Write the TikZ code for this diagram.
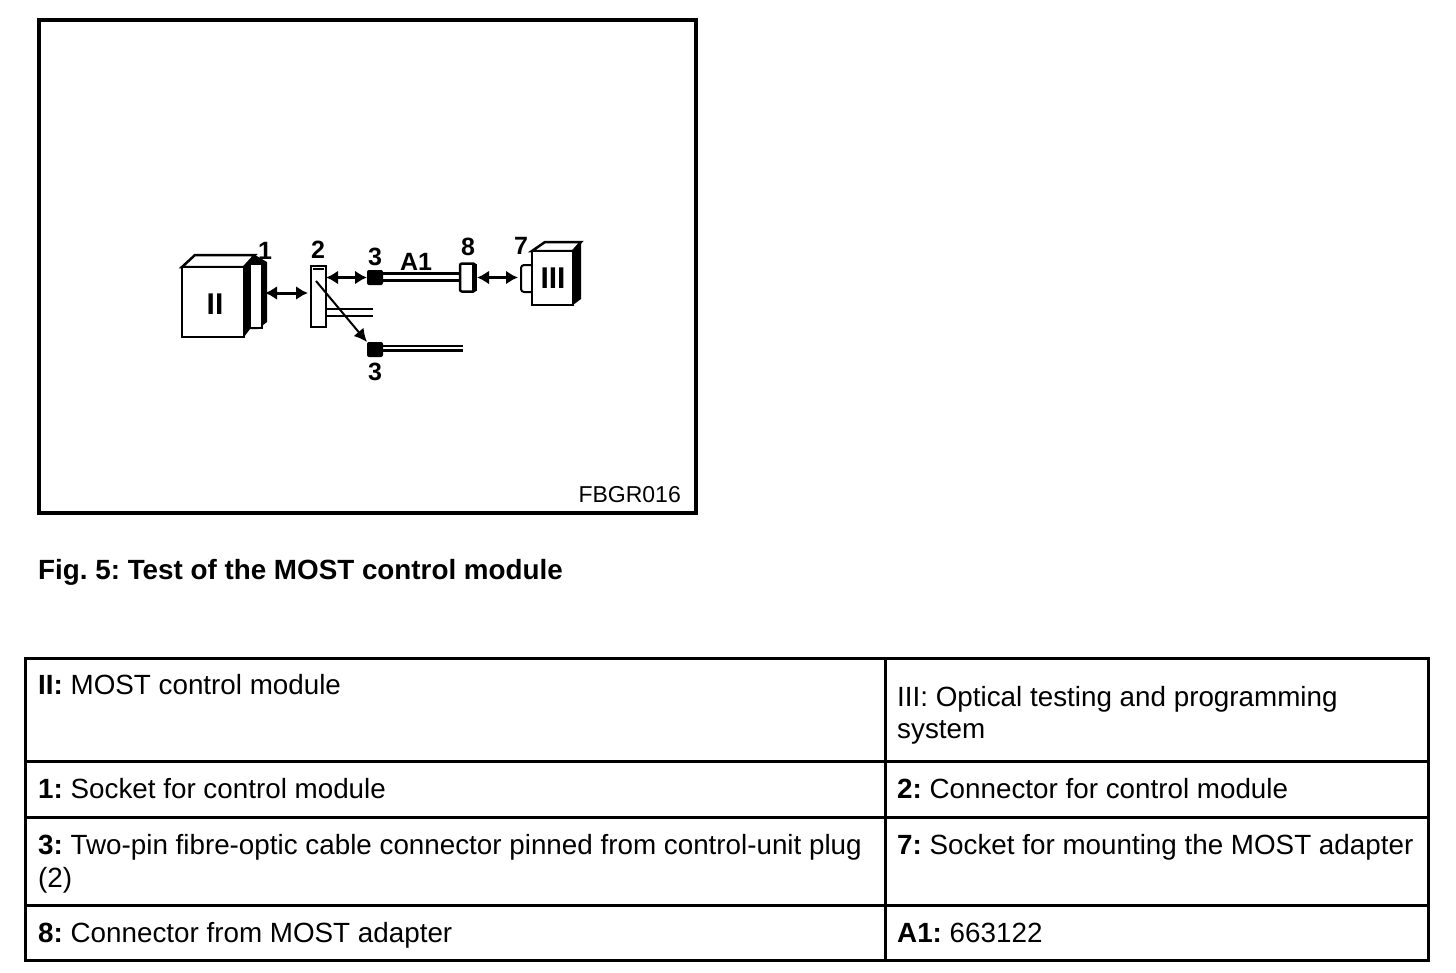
\documentclass[tikz,border=0pt]{standalone}
\usepackage{fontspec}
\setmainfont{Liberation Sans}
\usetikzlibrary{arrows.meta,positioning}

\begin{document}
\frenchspacing
\begin{tikzpicture}[x=1pt,y=-1pt,
  part/.style={rectangle,draw=black,fill=white,line width=2.5pt,inner sep=0pt,outer sep=0pt},
  pin/.style={rectangle,fill=black,inner sep=0pt,outer sep=0pt,minimum width=16pt,minimum height=15pt,rounded corners=2pt},
  num/.style={font=\fontsize{25}{25}\selectfont\bfseries,inner sep=0pt},
  roman/.style={font=\fontsize{30}{30}\selectfont\bfseries,inner sep=0pt},
  txt/.style={font=\fontsize{27.8}{32}\selectfont,anchor=base west,inner sep=0pt},
  link/.style={{Latex[length=12pt,width=14pt]}-{Latex[length=12pt,width=14pt]},line width=3pt},
  cable/.style={line width=2.5pt},
  cell/.style={draw=black,line width=3pt}]
  \useasboundingbox (0,0) rectangle (1456,972);

  % picture frame
  \node (frame) [rectangle,draw=black,line width=4pt,inner sep=0pt,outer sep=0pt,minimum width=657pt,minimum height=493pt,anchor=north west] at (39,20) {};
  \node (code) [font=\fontsize{23}{23}\selectfont,inner sep=0pt,anchor=east] at (681,495) {FBGR016};

  % module II
  \fill[black] (244,267) -- (255,255) -- (267,262) -- (267,322) -- (258,329) -- (250,329) -- (244,337) --cycle;
  \draw[part] (182,267) -- (195,255) -- (255,255) -- (244,267) --cycle;
  \node (socketone) [part,minimum width=12pt,minimum height=64pt,anchor=north west,line width=2pt] at (250,264) {};
  \node (moduletwo) [part,minimum width=62pt,minimum height=70pt,anchor=north west] at (182,267) {};
  \node (labelii) [roman] at (215,304) {II};

  % plug 2
  \node (plugtwo) [part,minimum width=15pt,minimum height=61pt,anchor=north west] at (311,266) {};
  \draw[cable] ([xshift=2pt,yshift=-3pt]plugtwo.north west) -- ([xshift=-2pt,yshift=-3pt]plugtwo.north east);
  \coordinate (cablea) at (plugtwo.east |- 0,309);
  \coordinate (cableb) at (plugtwo.east |- 0,316);
  \coordinate (cablea end) at (373,309);
  \coordinate (cableb end) at (373,316);
  \coordinate (plugin) at (316,281);
  \draw[cable] (cablea) -- (cablea end);
  \draw[cable] (cableb) -- (cableb end);

  % pins 3
  \node (pinup) [pin] at (375,277.5) {};
  \node (pinlow) [pin] at (375,349.5) {};
  \coordinate (lowend) at (463,349.5);
  \draw[cable] ([yshift=-1pt]pinlow.east) -- ([yshift=-1pt]lowend);
  \draw[cable] ([yshift=3.5pt]pinlow.east) -- ([yshift=3.5pt]lowend);

  % adapter 8
  \node (plugeight) [part,minimum width=15pt,minimum height=28pt,rounded corners=2pt,anchor=west] at (460,277.5) {};
  \fill[black] (472,264) rectangle (477,291);
  \draw[cable] ([yshift=-3pt]pinup.east) -- ([yshift=-3pt]plugeight.west);
  \draw[cable] ([yshift=4pt]pinup.east) -- ([yshift=4pt]plugeight.west);

  % tester III
  \fill[black] (573,251) -- (581,242) -- (581,299) -- (573,305) --cycle;
  \draw[part] (532,251) -- (545,242) -- (581,242) -- (573,251) --cycle;
  \node (socketseven) [part,minimum width=13pt,minimum height=27pt,rounded corners=3pt,anchor=north west,line width=2pt] at (521,265) {};
  \node (moduleiii) [part,minimum width=41pt,minimum height=54pt,anchor=north west] at (532,251) {};
  \node (labeliii) [roman] at (553,278) {III};

  % arrows
  \draw[link] (socketone.east |- 0,293) ++(3,0) -- (308,293);
  \draw[link] (plugtwo.east |- pinup) -- (pinup.west);
  \draw[link,shorten <=2pt,shorten >=3pt] (plugeight.east) -- (plugeight.east -| socketseven.west);
  \draw[-{Latex[length=13pt,width=13pt]},line width=2pt] (plugin) -- (pinlow.north west);

  % numbers
  \foreach \n/\lbl/\px/\py in {nonea/1/265/251,ntwo/2/318/250,nthree/3/375/257,nadapter/A1/416/262,
                               neight/8/468/247,nseven/7/521/246,nthreeb/3/375/372}{
    \node (\n) [num] at (\px,\py) {\lbl};
  }

  % caption
  \node (caption) [txt,font=\fontsize{27.8}{32}\selectfont\bfseries] at (38,579) {Fig. 5: Test of the MOST control module};

  % table
  \foreach \xa/\ya/\xb/\yb in {25/658/885/761,885/658/1428/761,
                               25/761/885/817,885/761/1428/817,
                               25/817/885/905,885/817/1428/905,
                               25/905/885/960,885/905/1428/960}{
    \draw[cell] (\xa,\ya) rectangle (\xb,\yb);
  }
  \node (ii) [txt] at (38,694) {\textbf{II:} MOST control module};
  \node (iii) [txt] at (897,706) {III: Optical testing and programming};
  \node (iiib) [txt] at (897,738) {system};
  \node (one) [txt] at (38,798) {\textbf{1:} Socket for control module};
  \node (two) [txt] at (897,798) {\textbf{2:} Connector for control module};
  \node (three) [txt] at (38,854) {\textbf{3:} Two-pin fibre-optic cable connector pinned from control-unit plug};
  \node (threeb) [txt] at (38,887) {(2)};
  \node (seven) [txt] at (897,854) {\textbf{7:} Socket for mounting the MOST adapter};
  \node (eight) [txt] at (38,942) {\textbf{8:} Connector from MOST adapter};
  \node (aone) [txt] at (897,942) {\textbf{A1:} 663122};
\end{tikzpicture}
\end{document}
